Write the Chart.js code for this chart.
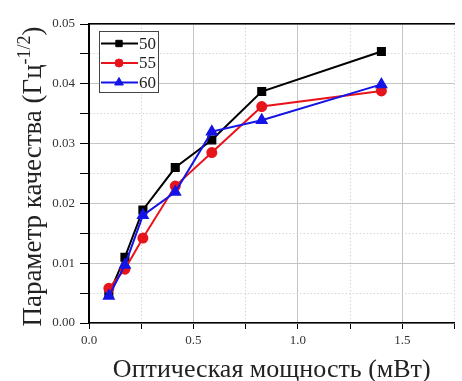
<!DOCTYPE html>
<html>
<head>
<meta charset="utf-8">
<script src="https://cdn.jsdelivr.net/npm/chart.js@4/dist/chart.umd.min.js"></script>
<style>
  html, body { margin: 0; padding: 0; background: #fff; }
  #wrap { width: 462px; height: 381px; }
</style>
</head>
<body>
<div id="wrap"><canvas id="qualityChart"></canvas></div>
<script>
// optical power, mW
const powerMw = [0.095, 0.172, 0.258, 0.413, 0.588, 0.827, 1.40];
// quality parameter, Hz^-1/2
const series50 = [0.0048, 0.0110, 0.0189, 0.0260, 0.0306, 0.0387, 0.0454];
const series55 = [0.0058, 0.0090, 0.0142, 0.0229, 0.0285, 0.0362, 0.0388];
const series60 = [0.0045, 0.0097, 0.0180, 0.0219, 0.0320, 0.0339, 0.0399];
const seriesNames = ['50', '55', '60'];

const xTickLabels = ['0.0', '0.5', '1.0', '1.5'];
const yTickLabels = ['0.00', '0.01', '0.02', '0.03', '0.04', '0.05'];

const serif = "'Liberation Serif', 'Times New Roman', serif";

// a tick is major when its value, printed, is one of the tick labels
function labelFor(value, list, digits) {
    const text = value.toFixed(digits);
    return list.includes(text) && Math.abs(parseFloat(text) - value) < 1e-9 ? text : '';
}

function toPoints(ys) {
    return ys.map((y, i) => ({ x: powerMw[i], y: y }));
}

// legend in a box inside the plot, with line + marker like the original
const boxLegend = {
    id: 'boxLegend',
    afterDatasetsDraw(chart) {
        const { ctx, chartArea } = chart;
        const x0 = chartArea.left + 10;
        const y0 = chartArea.top + 7;
        ctx.save();
        ctx.fillStyle = '#fff';
        ctx.fillRect(x0, y0, 59, 61);
        ctx.strokeStyle = '#444';
        ctx.lineWidth = 1;
        ctx.strokeRect(x0 + 0.5, y0 + 0.5, 59, 61);
        chart.data.datasets.forEach((ds, i) => {
            const y = y0 + 12.5 + i * 19.5;
            ctx.strokeStyle = ds.borderColor;
            ctx.lineWidth = 2;
            ctx.beginPath();
            ctx.moveTo(x0 + 2, y);
            ctx.lineTo(x0 + 39, y);
            ctx.stroke();
            ctx.fillStyle = ds.backgroundColor;
            ctx.lineWidth = 1;
            Chart.helpers.drawPoint(ctx, {
                pointStyle: ds.pointStyle,
                radius: ds.pointRadius - 0.5,
                borderWidth: 1,
                rotation: 0
            }, x0 + 20, y);
            ctx.fillStyle = '#222';
            ctx.font = '17px ' + serif;
            ctx.textBaseline = 'middle';
            ctx.textAlign = 'left';
            ctx.fillText(seriesNames[i], x0 + 40, y + 1);
        });
        ctx.restore();
    }
};

// y title needs a superscript, so it is drawn here
const yTitle = {
    id: 'yTitle',
    afterDraw(chart) {
        const { ctx, chartArea } = chart;
        const main = 'Параметр качества (Гц';
        const sup = '-1/2';
        const tail = ')';
        const bigFont = '27px ' + serif;
        const smallFont = '18px ' + serif;
        ctx.save();
        ctx.font = bigFont;
        const wMain = ctx.measureText(main).width;
        const wTail = ctx.measureText(tail).width;
        ctx.font = smallFont;
        const wSup = ctx.measureText(sup).width;
        const total = wMain + wSup + wTail;
        ctx.translate(41, (chartArea.top + chartArea.bottom) / 2 + 3);
        ctx.rotate(-Math.PI / 2);
        ctx.fillStyle = '#222';
        ctx.textBaseline = 'alphabetic';
        ctx.textAlign = 'left';
        let x = -total / 2;
        ctx.font = bigFont;
        ctx.fillText(main, x, 0);
        x += wMain;
        ctx.font = smallFont;
        ctx.fillText(sup, x, -11);
        x += wSup;
        ctx.font = bigFont;
        ctx.fillText(tail, x, 0);
        ctx.restore();
    }
};

const ctx = document.getElementById('qualityChart').getContext('2d');
const chart = new Chart(ctx, {
    type: 'line',
    data: {
        datasets: [
            {
                label: seriesNames[0],
                data: toPoints(series50),
                borderColor: '#000000',
                backgroundColor: '#000000',
                pointStyle: 'rect',
                pointRadius: 5,
                borderWidth: 2,
                order: 3
            },
            {
                label: seriesNames[1],
                data: toPoints(series55),
                borderColor: '#e8141b',
                backgroundColor: '#e8141b',
                pointStyle: 'circle',
                pointRadius: 4.5,
                borderWidth: 2,
                order: 2
            },
            {
                label: seriesNames[2],
                data: toPoints(series60),
                borderColor: '#1414e6',
                backgroundColor: '#1414e6',
                pointStyle: 'triangle',
                pointRadius: 5.5,
                borderWidth: 2,
                order: 1
            }
        ]
    },
    options: {
        responsive: true,
        maintainAspectRatio: false,
        animation: false,
        layout: { padding: 0 },
        plugins: {
            legend: { display: false },
            tooltip: { enabled: false }
        },
        elements: {
            line: { tension: 0 },
            point: { borderWidth: 1 }
        },
        scales: {
            x: {
                type: 'linear',
                position: 'bottom',
                min: 0,
                max: 1.75,
                ticks: {
                    stepSize: 0.25,
                    autoSkip: false,
                    maxRotation: 0,
                    padding: 4,
                    color: '#333',
                    font: { family: serif, size: 13 },
                    callback: v => labelFor(v, xTickLabels, 1)
                },
                grid: {
                    color: c => labelFor(c.tick.value, xTickLabels, 1) ? '#c4c4c4' : '#d6d6d6',
                    tickColor: '#000',
                    tickLength: 6
                },
                border: {
                    color: '#000',
                    width: 1.5,
                    dash: c => labelFor(c.tick.value, xTickLabels, 1) ? [] : [1.5, 2]
                },
                title: {
                    display: true,
                    text: 'Оптическая мощность (мВт)',
                    color: '#222',
                    font: { family: serif, size: 26, lineHeight: 0.8 },
                    padding: 0
                },
                afterFit: s => { s.height = 58; }
            },
            xTop: {
                type: 'linear',
                position: 'top',
                min: 0,
                max: 1.75,
                ticks: { display: false },
                grid: { display: false },
                border: { color: '#000', width: 1.5 },
                afterFit: s => { s.height = 24; }
            },
            y: {
                type: 'linear',
                min: 0,
                max: 0.05,
                ticks: {
                    stepSize: 0.005,
                    autoSkip: false,
                    padding: 5,
                    color: '#333',
                    font: { family: serif, size: 13 },
                    callback: v => labelFor(v, yTickLabels, 2)
                },
                grid: {
                    color: c => labelFor(c.tick.value, yTickLabels, 2) ? '#c4c4c4' : '#d6d6d6',
                    tickColor: '#000',
                    tickLength: 9
                },
                border: {
                    color: '#000',
                    width: 2,
                    dash: c => labelFor(c.tick.value, yTickLabels, 2) ? [] : [1.5, 2]
                },
                afterFit: s => { s.width = 89; }
            }
        }
    },
    plugins: [boxLegend, yTitle]
});
</script>
</body>
</html>
